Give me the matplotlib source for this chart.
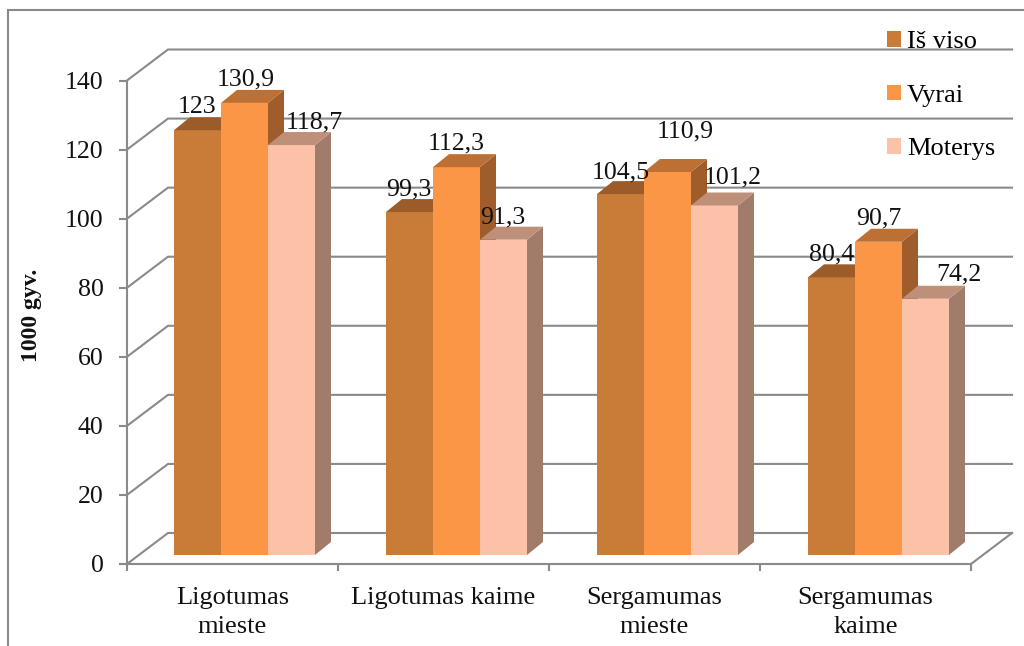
import matplotlib
matplotlib.use("Agg")
import matplotlib.pyplot as plt
from matplotlib.patches import Polygon, Patch
from matplotlib.lines import Line2D

categories = ["Ligotumas\nmieste", "Ligotumas kaime", "Sergamumas\nmieste", "Sergamumas\nkaime"]
series_names = ["Iš viso", "Vyrai", "Moterys"]
is_viso = [123, 99.3, 104.5, 80.4]
vyrai = [130.9, 112.3, 110.9, 90.7]
moterys = [118.7, 91.3, 101.2, 74.2]
value_labels = [["123", "99,3", "104,5", "80,4"],
                ["130,9", "112,3", "110,9", "90,7"],
                ["118,7", "91,3", "101,2", "74,2"]]
# label offsets from bar top centre, in pixels (dx, up)
label_offsets = [[(0, 23), (-1, 23), (0, 22), (0, 23)],
                 [(1, 23), (0, 24), (18, 41), (0, 23)],
                 [(23, 23), (-1, 22), (18, 28), (33, 24)]]
yticks = [0, 20, 40, 60, 80, 100, 120, 140]

front_cols = ["#C97B38", "#FB9647", "#FBC2A8"]
top_cols = ["#9C5C2A", "#BC7033", "#BE9079"]
side_cols = ["#9E5D2A", "#9E5D2A", "#A27C6A"]
GREY = "#8A8A8A"
FS = 18.6

W, H = 1024, 646
fig = plt.figure(figsize=(W / 100, H / 100), dpi=100)
plt.rcParams["font.family"] = ["Liberation Serif", "DejaVu Serif"]
L, R, B, T = 127, 971, 564, 80.5
ax = fig.add_axes([L / W, 1 - B / H, (R - L) / W, (B - T) / H])
ax.set_xlim(0, 4)
ax.set_ylim(0, 140)
ax.patch.set_alpha(0)
px = (R - L) / 4
py = (B - T) / 140
for s in ["top", "right"]:
    ax.spines[s].set_visible(False)
for s in ["left", "bottom"]:
    ax.spines[s].set_color(GREY)
    ax.spines[s].set_linewidth(1.5)

# walls
wdx, wdy = 41 / px, 31 / py
for y in yticks:
    ax.plot([0, wdx, 4 + wdx], [y, y + wdy, y + wdy], color=GREY, lw=1.5,
            clip_on=False, zorder=1, solid_joinstyle="miter")
ax.plot([4, 4 + wdx], [0, wdy], color=GREY, lw=1.5, clip_on=False, zorder=1)

# bars
bw = 47 / px
ddx, ddy = 16 / px, 13 / py
base = 9 / py
starts = [47 / px, 259 / px, 470 / px, 681 / px]
series = [is_viso, vyrai, moterys]
z = 3
for g, x0 in enumerate(starts):
    for i, vals in enumerate(series):
        x = x0 + i * bw
        v = vals[g]
        top = base + v
        ax.add_patch(Polygon([(x + bw, base), (x + bw + ddx, base + ddy), (x + bw + ddx, top + ddy), (x + bw, top)],
                             closed=True, fc=side_cols[i], ec="none", zorder=z, clip_on=False))
        ax.bar(x, v, width=bw, bottom=base, align="edge", color=front_cols[i], zorder=z + 0.1, clip_on=False)
        ax.add_patch(Polygon([(x, top), (x + ddx, top + ddy), (x + bw + ddx, top + ddy), (x + bw, top)],
                             closed=True, fc=top_cols[i], ec="none", zorder=z + 0.2, clip_on=False))
        z += 1
for g, x0 in enumerate(starts):
    for i, vals in enumerate(series):
        dx, up = label_offsets[i][g]
        ax.annotate(value_labels[i][g], (x0 + (i + 0.5) * bw, base + vals[g]),
                    xytext=(dx * 0.72, up * 0.72), textcoords="offset points",
                    ha="center", va="center", fontsize=FS, color="#111111", zorder=50,
                    annotation_clip=False)

ax.set_yticks(yticks)
ax.set_xticks([0, 1, 2, 3, 4])
ax.set_xticks([0.5, 1.5, 2.5, 3.5], categories, minor=True)
ax.set_xticklabels([])
ax.tick_params(axis="y", length=5.5, width=1.5, color=GREY, pad=11.5, labelsize=FS, labelcolor="#111111")
ax.tick_params(axis="x", which="major", length=5, width=1.5, color=GREY)
ax.tick_params(axis="x", which="minor", length=0, pad=16.5, labelsize=19)
for t in ax.get_xticklabels(minor=True):
    t.set_linespacing(1.39)
    t.set_color("#111111")

fig.text(32 / W, 1 - 315 / H, "1000 gyv.", rotation=90, ha="center", va="center",
         fontsize=17, fontweight="bold", color="#111111")

handles = [Patch(fc=c, ec="none") for c in front_cols]
fig.legend(handles, series_names, loc="upper left", bbox_to_anchor=(887 / W, 1 - 31 / H),
           frameon=False, fontsize=19, handlelength=0.53, handleheight=0.53,
           handletextpad=0.23, labelspacing=1.19, borderpad=0, borderaxespad=0)

# outer frame
fig.add_artist(Line2D([8 / W, 8 / W, 1], [0, 1 - 10 / H, 1 - 10 / H], color=GREY, lw=1.5,
                      transform=fig.transFigure, solid_joinstyle="miter"))

fig.savefig("out.png", dpi=100, facecolor="white")
